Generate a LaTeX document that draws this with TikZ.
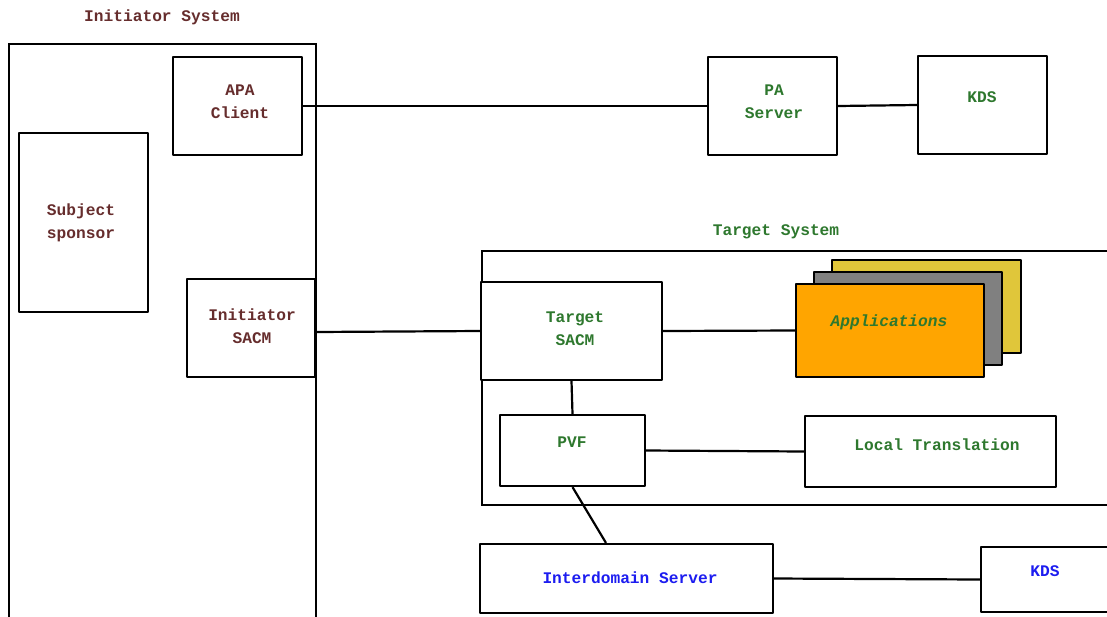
\documentclass[tikz,border=0pt]{standalone}
\usepackage{fontspec}
\setmonofont{Liberation Mono}
\definecolor{initred}{RGB}{102,45,45}
\definecolor{tgtgreen}{RGB}{46,120,46}
\definecolor{idblue}{RGB}{28,28,240}
\definecolor{appyellow}{RGB}{224,198,58}
\definecolor{appgray}{RGB}{128,128,128}
\definecolor{apporange}{RGB}{255,165,0}
\tikzset{
  box/.style={draw=black, line width=2.2pt, line join=round, inner sep=0pt, fill=white},
  txt/.style={font=\ttfamily\bfseries\fontsize{16.2}{23}\selectfont, align=center, inner sep=0pt},
  wire/.style={draw=black, line width=2.2pt},
}
\begin{document}
\begin{tikzpicture}[x=1pt, y=-1pt]
\clip (0,0) rectangle (1107,616);
\fill[white] (0,0) rectangle (1107,616);

% ---- initiator side ----
\node[txt, text=initred] (initlbl) at (162,17.5) {Initiator System};
\draw[line width=2.2pt] (9,640) -- (9,44) -- (316,44) -- (316,640);
\node[box, minimum width=129pt, minimum height=98pt] (apa) at (237.5,106) {};
\node[txt, text=initred] (apat) at (240,102) {APA\\Client};
\node[box, minimum width=129pt, minimum height=179pt] (sponsor) at (83.5,222.5) {};
\node[txt, text=initred] (sponsort) at (81,222.5) {Subject\\sponsor};
\node[box, minimum width=128pt, minimum height=98pt] (isacm) at (251,328) {};
\node[txt, text=initred] (isacmt) at (252,326) {Initiator\\SACM};

% ---- policy authority ----
\node[box, minimum width=129pt, minimum height=98pt] (pa) at (772.5,106) {};
\node[txt, text=tgtgreen] (pat) at (774,102) {PA\\Server};
\node[box, minimum width=129pt, minimum height=98pt] (kdsa) at (982.5,105) {};
\node[txt, text=tgtgreen] (kdsat) at (982,97.5) {KDS};

% ---- target side ----
\node[txt, text=tgtgreen] (tgtlbl) at (776,231.5) {Target System};
\draw[line width=2.2pt] (1130,251) -- (482,251) -- (482,505) -- (1130,505);
\node[box, minimum width=181pt, minimum height=98pt] (tsacm) at (571.5,331) {};
\node[txt, text=tgtgreen] (tsacmt) at (575,329) {Target\\SACM};
\node[box, fill=appyellow, minimum width=189pt, minimum height=93pt] (app3) at (926.5,306.5) {};
\node[box, fill=appgray, minimum width=188pt, minimum height=93pt] (app2) at (908,318.5) {};
\node[box, fill=apporange, minimum width=188pt, minimum height=93pt] (app1) at (890,330.5) {};
\node[txt, text=tgtgreen, font=\ttfamily\bfseries\itshape\fontsize{16.2}{23}\selectfont] (appt) at (889,322.5) {Applications};
\node[box, minimum width=145pt, minimum height=71pt] (pvf) at (572.5,450.5) {};
\node[txt, text=tgtgreen] (pvft) at (572,442.5) {PVF};
\node[box, minimum width=251pt, minimum height=71pt] (lt) at (930.5,451.5) {};
\node[txt, text=tgtgreen] (ltt) at (937,444.5) {Local Translation};

% ---- interdomain ----
\node[box, minimum width=293pt, minimum height=69pt] (ids) at (626.5,578.5) {};
\node[txt, text=idblue] (idst) at (630,577.5) {Interdomain Server};
\node[box, minimum width=160pt, minimum height=65pt] (kdsb) at (1061,579.5) {};
\node[txt, text=idblue] (kdsbt) at (1045,571.5) {KDS};

% ---- connectors ----
\draw[wire] (apa.east) -- (pa.west);
\draw[wire] (pa.east) -- (kdsa.west);
\draw[wire] ([yshift=-4pt]isacm.east) -- (tsacm.west);
\draw[wire] (tsacm.east) -- (app1.west);
\draw[wire] (tsacm.south) -- (pvf.north);
\draw[wire] (pvf.east) -- (lt.west);
\draw[wire] (pvf.south) -- ([xshift=-20.5pt]ids.north);
\draw[wire] (ids.east) -- (kdsb.west);
\end{tikzpicture}
\end{document}
